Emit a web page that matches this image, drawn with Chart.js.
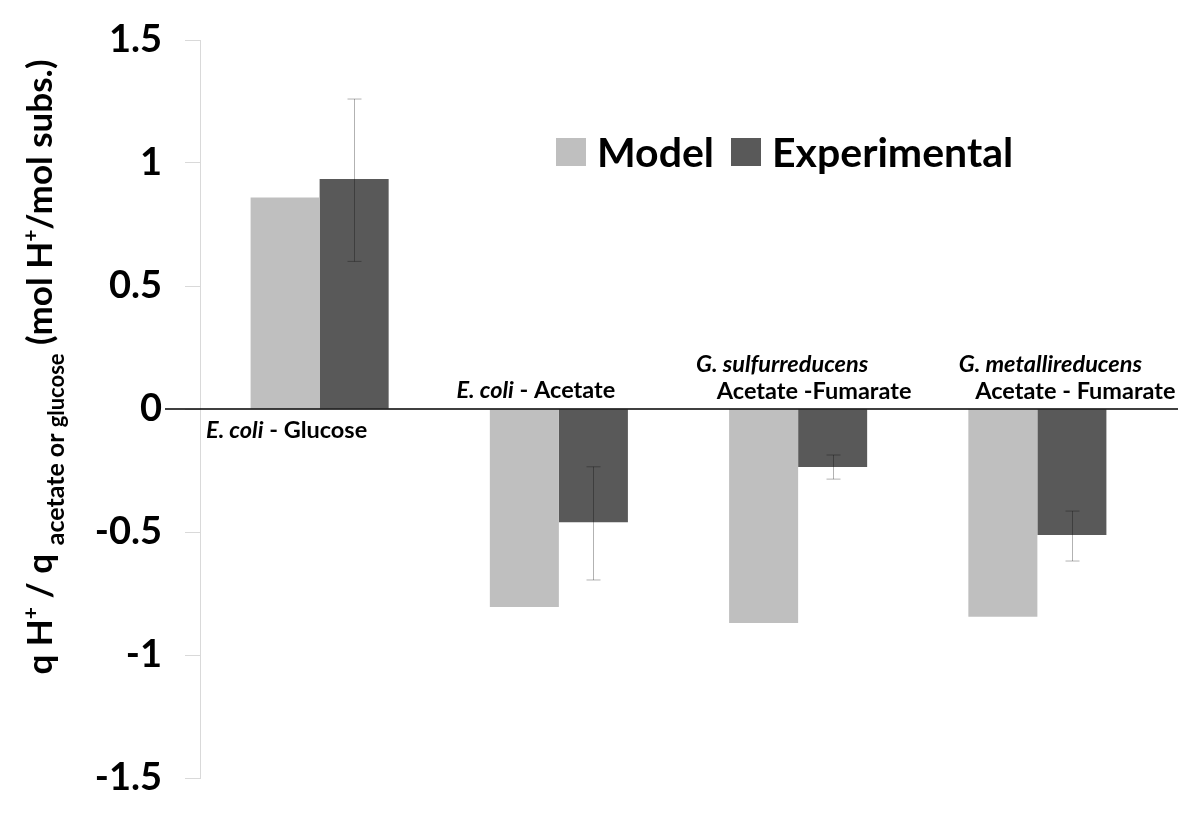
<!DOCTYPE html>
<html>
<head>
<meta charset="utf-8">
<script src="https://cdn.jsdelivr.net/npm/chart.js@4"></script>
<style>
  html, body { margin: 0; padding: 0; background: #fff; }
  #wrap { width: 1200px; height: 823px; }
</style>
</head>
<body>
<div id="wrap"><canvas id="barChart" width="1200" height="823"></canvas></div>
<script>
// values
const categories = ['E. coli - Glucose', 'E. coli - Acetate', 'G. sulfurreducens Acetate -Fumarate', 'G. metallireducens Acetate - Fumarate'];
const modelValues = [0.86, -0.805, -0.87, -0.845];
const experimentalValues = [0.935, -0.46, -0.236, -0.512];
const errLow = [0.60, -0.695, -0.285, -0.618];
const errHigh = [1.26, -0.235, -0.187, -0.415];
const yTicks = [-1.5, -1, -0.5, 0, 0.5, 1, 1.5];

// category labels as lines of [text, italic] runs
const catLabels = [
  [[['E. coli', true], [' - Glucose', false]]],
  [[['E. coli', true], [' - Acetate', false]]],
  [[['G. sulfurreducens', true]], [['Acetate -Fumarate', false]]],
  [[['G. metallireducens', true]], [['Acetate - Fumarate', false]]]
];
// placement of each label line: dx from category centre, dy from zero line
const catLabelPos = [
  [[-33, 29]],
  [[-23, -11]],
  [[-16, -37], [16, -10]],
  [[13, -37], [38, -10]]
];

const FONT = "Lato, 'Open Sans', sans-serif";

function runsWidth(ctx, runs, size) {
  let w = 0;
  runs.forEach(r => {
    ctx.font = (r[1] ? 'italic ' : '') + 'bold ' + size + 'px ' + FONT;
    w += ctx.measureText(r[0]).width;
  });
  return w;
}

const extras = {
  id: 'extras',
  afterDatasetsDraw(chart) {
    const ctx = chart.ctx;
    const y = chart.scales.y, x = chart.scales.x;
    const zeroY = y.getPixelForValue(0);
    ctx.save();

    // zero line
    ctx.strokeStyle = '#000';
    ctx.lineWidth = 1.5;
    ctx.beginPath();
    ctx.moveTo(165, zeroY);
    ctx.lineTo(1178, zeroY);
    ctx.stroke();

    // error bars on experimental series
    const meta = chart.getDatasetMeta(1);
    ctx.strokeStyle = 'rgba(0,0,0,0.3)';
    ctx.lineWidth = 1;
    meta.data.forEach((bar, i) => {
      const bx = Math.round(bar.x) + 0.5;
      const y1 = y.getPixelForValue(errLow[i]);
      const y2 = y.getPixelForValue(errHigh[i]);
      ctx.beginPath();
      ctx.moveTo(bx, y1); ctx.lineTo(bx, y2);
      ctx.moveTo(bx - 7, y1); ctx.lineTo(bx + 7, y1);
      ctx.moveTo(bx - 7, y2); ctx.lineTo(bx + 7, y2);
      ctx.stroke();
    });

    // category labels
    ctx.fillStyle = '#000';
    ctx.textBaseline = 'alphabetic';
    ctx.textAlign = 'left';
    catLabels.forEach((lines, i) => {
      const cx = x.getPixelForValue(i);
      lines.forEach((runs, j) => {
        const pos = catLabelPos[i][j];
        const w = runsWidth(ctx, runs, 23.5);
        let px = cx + pos[0] - w / 2;
        runs.forEach(r => {
          ctx.font = (r[1] ? 'italic ' : '') + 'bold 23.5px ' + FONT;
          ctx.fillText(r[0], px, zeroY + pos[1]);
          px += ctx.measureText(r[0]).width;
        });
      });
    });

    // legend
    ctx.font = 'bold 41px ' + FONT;
    const legendX = [556, 731];
    chart.data.datasets.forEach((ds, i) => {
      ctx.fillStyle = ds.backgroundColor;
      ctx.fillRect(legendX[i], 138, 30, 28);
      ctx.fillStyle = '#000';
      ctx.fillText(ds.label, legendX[i] + 41, 167);
    });

    // rotated y-axis title with super/subscripts
    const runs = [
      ['q H', 35, 0], ['+', 21, -14], [' / q ', 35, 0], ['acetate or ', 25, 12], ['glucose', 22, 12],
      [' (mol H', 35, 0], ['+', 21, -14], ['/mol subs.)', 35, 0]
    ];
    let total = 0;
    runs.forEach(r => { ctx.font = 'bold ' + r[1] + 'px ' + FONT; total += ctx.measureText(r[0]).width; });
    ctx.translate(52, 367);
    ctx.rotate(-Math.PI / 2);
    let tx = -total / 2;
    runs.forEach(r => {
      ctx.font = 'bold ' + r[1] + 'px ' + FONT;
      ctx.fillText(r[0], tx, r[2]);
      tx += ctx.measureText(r[0]).width;
    });
    ctx.restore();
  }
};

new Chart(document.getElementById('barChart'), {
  type: 'bar',
  data: {
    labels: categories,
    datasets: [
      { label: 'Model', data: modelValues, backgroundColor: '#bfbfbf' },
      { label: 'Experimental', data: experimentalValues, backgroundColor: '#595959' }
    ]
  },
  options: {
    responsive: false,
    animation: false,
    layout: { padding: { top: 40, bottom: 45, right: 43, left: 0 } },
    datasets: { bar: { categoryPercentage: 0.577, barPercentage: 1 } },
    scales: {
      x: { display: false },
      y: {
        min: -1.5,
        max: 1.5,
        afterFit: function(scale) {
          scale.width = 200;
          scale.paddingTop = 0;
          scale.paddingBottom = 0;
        },
        afterBuildTicks: function(scale) { scale.ticks = yTicks.map(v => ({ value: v })); },
        border: { color: '#d9d9d9', width: 1 },
        grid: { drawOnChartArea: false, drawTicks: true, tickLength: 15, color: '#d9d9d9' },
        ticks: {
          padding: 23,
          color: '#000',
          font: { family: FONT, size: 38, weight: 'bold' },
          callback: function(value) { return String(value); }
        }
      }
    },
    plugins: {
      legend: { display: false },
      tooltip: { enabled: false }
    }
  },
  plugins: [extras]
});
</script>
</body>
</html>
